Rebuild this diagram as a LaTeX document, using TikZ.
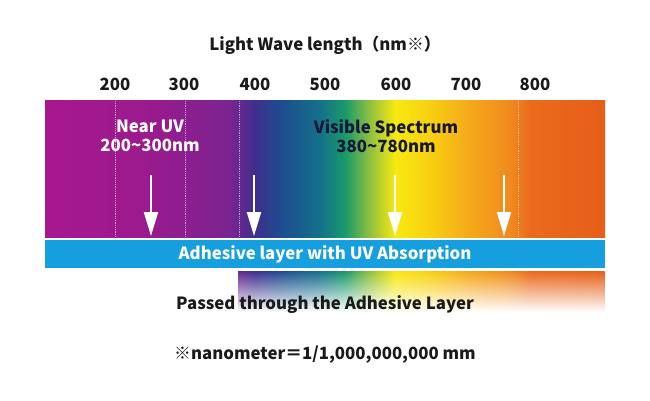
\documentclass[tikz,border=0pt]{standalone}
\usepackage{fontspec}
\setmainfont{Noto Sans CJK JP}
\usetikzlibrary{arrows.meta,fadings}
\definecolor{layerblue}{HTML}{169FDE}
\definecolor{textdark}{HTML}{1A1A1A}
\definecolor{visdark}{HTML}{15173A}
\pgfdeclarehorizontalshading{spectrum}{100bp}{
  color(0bp)=(red!0!white);
  color(25bp)=({rgb,255:red,168;green,23;blue,143});
  color(34.4bp)=({rgb,255:red,154;green,26;blue,142});
  color(41.5bp)=({rgb,255:red,122;green,36;blue,144});
  color(43.75bp)=({rgb,255:red,62;green,47;blue,142});
  color(46bp)=({rgb,255:red,30;green,76;blue,144});
  color(49.5bp)=({rgb,255:red,20;green,112;blue,138});
  color(51.8bp)=({rgb,255:red,26;green,154;blue,106});
  color(54bp)=({rgb,255:red,144;green,192;blue,64});
  color(56.25bp)=({rgb,255:red,248;green,232;blue,16});
  color(59.4bp)=({rgb,255:red,248;green,208;blue,16});
  color(62.9bp)=({rgb,255:red,245;green,168;blue,26});
  color(66.5bp)=({rgb,255:red,240;green,138;blue,30});
  color(68.3bp)=({rgb,255:red,234;green,106;blue,28});
  color(75bp)=({rgb,255:red,230;green,94;blue,26});
  color(100bp)=({rgb,255:red,230;green,94;blue,26})}
\tikzfading[name=fadedown, top color=transparent!0, middle color=transparent!35, bottom color=transparent!100]
\newcommand{\tld}{{\char"7E}}
\begin{document}
\begin{tikzpicture}[x=1pt, y=-1pt, every node/.style={font=\bfseries\fontsize{16.8}{19}\selectfont, text=textdark, inner sep=0pt}]
\tikzstyle{tick}=[draw=white, draw opacity=0.55, densely dotted, line width=0.8pt]
\tikzstyle{ray}=[draw=white, fill=white, line width=2pt, -{Triangle[width=14pt,length=24pt]}]
\useasboundingbox (0,0) rectangle (650,400);
% spectrum bar
\shade[shading=spectrum] (45,100) rectangle (605,237);
\draw[tick] (115,101) -- (115,237);
\draw[tick] (185,101) -- (185,237);
\draw[tick] (239,101) -- (239,237);
\draw[tick] (518,101) -- (518,237);
% adhesive layer
\fill[layerblue] (45,240) rectangle (605,268);
% light after the layer
\begin{scope}
\clip (238,271) rectangle (605,312);
\shade[shading=spectrum, path fading=fadedown] (45,271) rectangle (605,312);
\end{scope}
% labels
\node (title) at (325,45) {Light Wave length（nm※）};
\node (l200) at (115,84) {200};
\node (l300) at (184,84) {300};
\node (l400) at (255,84) {400};
\node (l500) at (325,84) {500};
\node (l600) at (396,84) {600};
\node (l700) at (466,84) {700};
\node (l800) at (535,84) {800};
\node[text=white, align=center] (nearuv) at (150,136) {Near UV\\200\tld300nm};
\node[text=visdark, align=center] (visible) at (386,136) {Visible Spectrum\\380\tld780nm};
\node[text=white] (layer) at (325,254) {Adhesive layer with UV Absorption};
\node (passed) at (325,305) {Passed through the Adhesive Layer};
\node (nano) at (325,355) {※nanometer＝1/1,000,000,000 mm};
% rays
\coordinate (r1a) at (151,175); \coordinate (r1b) at (151,236);
\coordinate (r2a) at (254,175); \coordinate (r2b) at (254,236);
\coordinate (r3a) at (395,175); \coordinate (r3b) at (395,236);
\coordinate (r4a) at (504,175); \coordinate (r4b) at (504,236);
\draw[ray] (r1a) -- (r1b);
\draw[ray] (r2a) -- (r2b);
\draw[ray] (r3a) -- (r3b);
\draw[ray] (r4a) -- (r4b);
\end{tikzpicture}
\end{document}
